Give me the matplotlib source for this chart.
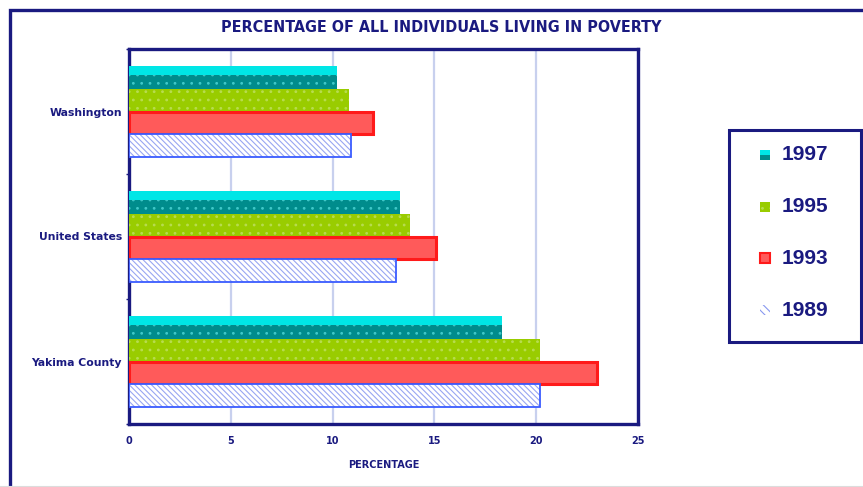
import matplotlib
matplotlib.use("Agg")
import matplotlib.pyplot as plt
from matplotlib.patches import Rectangle
from matplotlib.lines import Line2D
import numpy as np

categories = ["Washington", "United States", "Yakima County"]
years = ["1997", "1995", "1993", "1989"]
v1997 = [10.2, 13.3, 18.3]
v1995 = [10.8, 13.8, 20.2]
v1993 = [12.0, 15.1, 23.0]
v1989 = [10.9, 13.1, 20.2]
xticks = [0, 5, 10, 15, 20, 25]

NAVY = "#1a1a80"
W, H = 863, 487

plt.rcParams["hatch.linewidth"] = 0.8
fig = plt.figure(figsize=(W / 100, H / 100), dpi=100)

def fx(px):
    return px / W

def fy(py):
    return 1 - py / H

ax = fig.add_axes([fx(129), fy(424), fx(638) - fx(129), fy(49) - fy(424)])

y = np.arange(len(categories))
h = 0.182
off = [-1.5 * h, -0.5 * h, 0.5 * h, 1.5 * h]
HATCH89 = "\\\\\\\\\\\\"

# 1997: teal with cyan upper part, dotted
ax.barh(y + off[0], v1997, height=h, color="#008c8c", edgecolor="#40c8c8",
        hatch="..", linewidth=0, zorder=3)
ax.barh(y + off[0] - h * 0.3, v1997, height=h * 0.4, color="#00e6e6",
        linewidth=0, zorder=4)
# 1995: green dotted
ax.barh(y + off[1], v1995, height=h, color="#99cc00", edgecolor="#b8dc50",
        hatch="..", linewidth=0, zorder=3)
# 1993: red with lighter interior
ax.barh(y + off[2], v1993, height=h, color="#ff5a5a", edgecolor="#ff1a1a",
        linewidth=2.2, zorder=3)
# 1989: blue hatched
ax.barh(y + off[3], v1989, height=h, color="white", edgecolor="#98a6f2",
        hatch=HATCH89, linewidth=0, zorder=3)
ax.barh(y + off[3], v1989, height=h, fill=False, edgecolor="#3a5cff",
        linewidth=1.3, zorder=4)

ax.set_xlim(0, 25)
ax.set_ylim(2.5, -0.5)
ax.set_xticks(xticks)
ax.set_xticklabels([str(t) for t in xticks], fontsize=7, fontweight="bold",
                   color=NAVY, family="DejaVu Sans")
ax.set_yticks(y)
ax.set_yticklabels(categories, fontsize=7.8, fontweight="bold", color=NAVY,
                   family="DejaVu Sans")
ax.set_yticks([-0.5, 0.5, 1.5, 2.5], minor=True)
ax.tick_params(axis="y", which="major", length=0, pad=5)
ax.tick_params(axis="y", which="minor", length=2.5, color=NAVY, width=1)
ax.tick_params(axis="x", length=0, pad=9)
ax.grid(axis="x", color="#c8d0ee", linewidth=1.6, zorder=1)
ax.set_axisbelow(True)
for s in ax.spines.values():
    s.set_color(NAVY)
    s.set_linewidth(2.4)
ax.set_xlabel("PERCENTAGE", fontsize=7, fontweight="bold", color=NAVY,
              labelpad=10)

# Title
fig.text(fx(441), fy(27), "PERCENTAGE OF ALL INDIVIDUALS LIVING IN POVERTY",
         ha="center", va="center", fontsize=11.5, fontweight="bold", color=NAVY,
         family="DejaVu Sans", fontstretch="condensed")

# Outer frame
fig.add_artist(Rectangle((fx(10), fy(500)), fx(900) - fx(10), fy(10) - fy(500),
                         transform=fig.transFigure, fill=False,
                         edgecolor=NAVY, linewidth=2.4))
fig.add_artist(Line2D([0, 1], [fy(485.5), fy(485.5)], transform=fig.transFigure,
                      color="#dcdcdc", linewidth=0.8))

# Legend box
fig.add_artist(Rectangle((fx(729), fy(342)), fx(861) - fx(729), fy(130) - fy(342),
                         transform=fig.transFigure, fill=False,
                         edgecolor=NAVY, linewidth=2.2))
ly = [155, 207, 258, 310]
sq = 10
for i, yr in enumerate(years):
    cy = ly[i]
    x0 = fx(760)
    y0 = fy(cy + sq / 2)
    wd = fx(760 + sq) - fx(760)
    ht = fy(cy - sq / 2) - fy(cy + sq / 2)
    if i == 0:
        fig.add_artist(Rectangle((x0, y0), wd, ht, transform=fig.transFigure,
                                 facecolor="#008c8c", linewidth=0))
        fig.add_artist(Rectangle((x0, y0 + ht * 0.55), wd, ht * 0.45,
                                 transform=fig.transFigure,
                                 facecolor="#00e6e6", linewidth=0))
    elif i == 1:
        fig.add_artist(Rectangle((x0, y0), wd, ht, transform=fig.transFigure,
                                 facecolor="#99cc00", edgecolor="#b8dc50",
                                 hatch="..", linewidth=0))
    elif i == 2:
        fig.add_artist(Rectangle((x0, y0), wd, ht, transform=fig.transFigure,
                                 facecolor="#ff5a5a", edgecolor="#ff1a1a",
                                 linewidth=1.5))
    else:
        fig.add_artist(Rectangle((x0, y0), wd, ht, transform=fig.transFigure,
                                 facecolor="white", edgecolor="#8898f0",
                                 hatch="\\\\\\\\", linewidth=0))
    fig.text(fx(782), fy(cy), yr, ha="left", va="center", fontsize=15,
             fontweight="bold", color=NAVY, family="Liberation Sans")

fig.savefig("out.png", dpi=100)
